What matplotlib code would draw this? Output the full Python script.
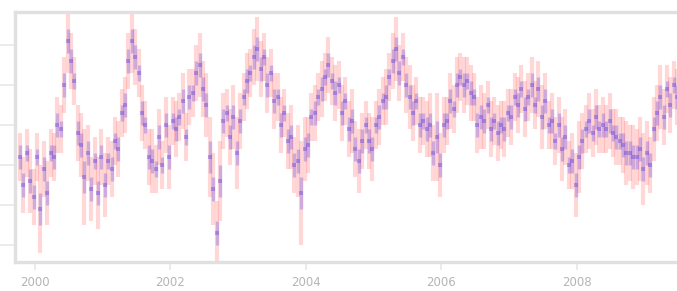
import numpy as np
import matplotlib
matplotlib.use("Agg")
import matplotlib.pyplot as plt

# time axis (decimal years, regular sampling)
start_year = 1999.78
step_year = 0.05

# series values (arbitrary units, ticks every 10)
values = [
    22, 15, 23, 16, 12, 22, 9, 19, 13, 23,
    22, 30, 29, 40, 51, 46, 41, 28, 25, 17,
    23, 14, 21, 13, 22, 15, 21, 19, 26, 24,
    33, 35, 46, 51, 47, 43, 33, 30, 22, 21,
    19, 27, 20, 30, 22, 31, 29, 32, 36, 27,
    37, 38, 43, 45, 39, 35, 22, 14, 3, 16,
    31, 33, 27, 32, 23, 31, 37, 41, 43, 47,
    49, 44, 47, 40, 43, 36, 37, 30, 33, 26,
    27, 20, 21, 13, 24, 25, 32, 33, 37, 39,
    42, 45, 41, 38, 40, 33, 36, 29, 31, 24,
    21, 26, 30, 26, 24, 30, 32, 36, 37, 42,
    46, 49, 43, 47, 40, 37, 33, 36, 30, 31,
    29, 30, 23, 27, 20, 30, 31, 36, 34, 40,
    42, 40, 41, 38, 37, 30, 32, 31, 35, 29,
    31, 28, 30, 29, 33, 32, 37, 35, 39, 34,
    37, 40, 35, 39, 32, 36, 30, 31, 26, 30,
    24, 27, 20, 21, 15, 22, 26, 29, 31, 28,
    32, 29, 30, 29, 31, 28, 27, 26, 25, 23,
    23, 22, 22, 24, 19, 23, 20, 29, 33, 37,
    32, 39, 35, 40, 37,
]

# outer (red) error bar half widths
errors = [
    6, 7, 6, 8, 7, 6, 11, 7, 8, 6,
    6, 7, 6, 7, 8, 7, 6, 7, 8, 12,
    7, 8, 6, 9, 7, 8, 6, 7, 6, 7,
    6, 7, 7, 8, 7, 6, 7, 6, 7, 8,
    6, 7, 6, 7, 8, 6, 7, 6, 7, 6,
    7, 6, 7, 8, 7, 8, 10, 9, 8, 10,
    7, 6, 7, 8, 9, 7, 6, 7, 6, 7,
    8, 7, 6, 7, 6, 7, 6, 7, 6, 7,
    8, 7, 9, 13, 8, 7, 6, 7, 6, 7,
    6, 7, 6, 7, 6, 7, 6, 7, 8, 7,
    8, 7, 6, 7, 8, 6, 7, 6, 7, 6,
    7, 8, 7, 6, 7, 8, 7, 6, 7, 6,
    7, 8, 7, 11, 8, 7, 6, 7, 6, 7,
    6, 7, 6, 7, 6, 7, 8, 7, 6, 7,
    6, 7, 6, 7, 6, 7, 6, 7, 6, 7,
    6, 7, 6, 7, 8, 7, 6, 7, 6, 7,
    8, 7, 6, 7, 8, 9, 7, 6, 7, 6,
    7, 6, 7, 6, 7, 6, 7, 6, 7, 8,
    7, 8, 7, 8, 9, 8, 7, 8, 7, 8,
    7, 6, 7, 6, 7,
]

# inner (blue) interval half widths
inner_errors = [
    3, 3, 2, 3, 3, 2, 4, 3, 3, 2,
    3, 3, 2, 3, 3, 3, 2, 3, 3, 4,
    3, 3, 2, 3, 3, 3, 2, 3, 2, 3,
    2, 3, 3, 3, 3, 2, 3, 2, 3, 3,
    2, 3, 2, 3, 3, 2, 3, 2, 3, 2,
    3, 2, 3, 3, 3, 3, 4, 3, 3, 4,
    3, 2, 3, 3, 3, 3, 2, 3, 2, 3,
    3, 3, 2, 3, 2, 3, 2, 3, 2, 3,
    3, 3, 3, 4, 3, 3, 2, 3, 2, 3,
    2, 3, 2, 3, 2, 3, 2, 3, 3, 3,
    3, 3, 2, 3, 3, 2, 3, 2, 3, 2,
    3, 3, 3, 2, 3, 3, 3, 2, 3, 2,
    3, 3, 3, 4, 3, 3, 2, 3, 2, 3,
    2, 3, 2, 3, 2, 3, 3, 3, 2, 3,
    2, 3, 2, 3, 2, 3, 2, 3, 2, 3,
    2, 3, 2, 3, 3, 3, 2, 3, 2, 3,
    3, 3, 2, 3, 3, 3, 3, 2, 3, 2,
    3, 2, 3, 2, 3, 2, 3, 2, 3, 3,
    3, 3, 3, 3, 3, 3, 3, 3, 3, 3,
    3, 2, 3, 2, 3,
]

x_ticks = [2000, 2002, 2004, 2006, 2008]
x_tick_labels = ["2000", "2002", "2004", "2006", "2008"]
y_ticks = [0, 10, 20, 30, 40, 50]

dates = start_year + step_year * np.arange(len(values))

fig = plt.figure(figsize=(6.77, 2.91), dpi=100)
W, H = 677, 291
ax = fig.add_axes([15 / W, 1 - 262 / H, (682 - 15) / W, 250 / H])

ax.errorbar(dates, values, yerr=errors, fmt="none", ecolor="#ff7070",
            elinewidth=3.0, alpha=0.28, zorder=2)
ax.errorbar(dates, values, yerr=inner_errors, fmt="none", ecolor="#6a4ee6",
            elinewidth=2.4, alpha=0.32, zorder=3)
ax.plot(dates, values, "s", color="#5a3cdc", markersize=2.6, alpha=0.38,
        markeredgewidth=0, zorder=4)

ax.set_xlim(1999.705, 2009.55)
ax.set_ylim(-4.25, 58.25)
ax.set_xticks(x_ticks)
ax.set_xticklabels(x_tick_labels)
ax.set_yticks(y_ticks)
ax.tick_params(axis="y", labelleft=False, length=11, width=1.2, color="#e8e8e8")
ax.tick_params(axis="x", length=6, width=1.2, color="#e8e8e8",
               labelsize=8.5, labelcolor="#b5b5b5", pad=4)
for s in ax.spines.values():
    s.set_color("#e0e0e0")
    s.set_linewidth(2.4)

fig.savefig("out.png", dpi=100)
